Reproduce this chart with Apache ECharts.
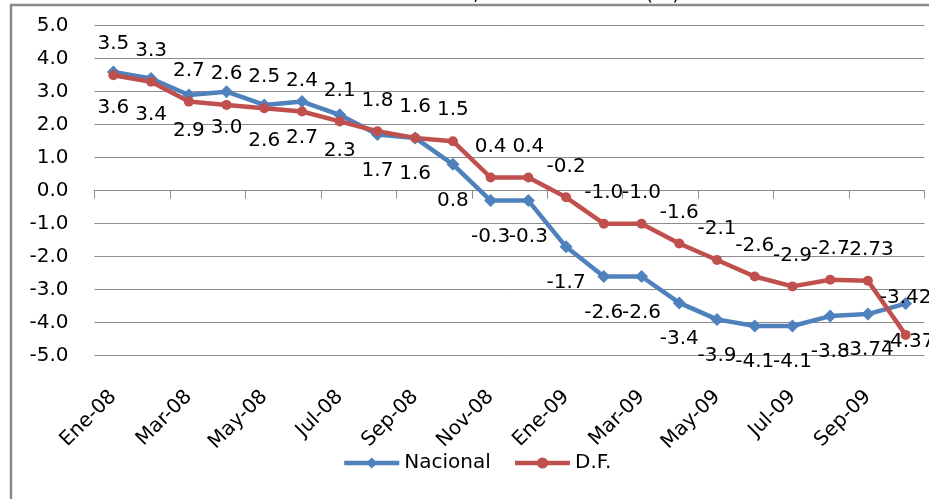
<!DOCTYPE html>
<html>
<head>
<meta charset="utf-8">
<title>Nacional vs D.F.</title>
<script src="https://cdn.jsdelivr.net/npm/echarts@6/dist/echarts.min.js"></script>
<style>
    html, body { margin: 0; padding: 0; background: #fff; }
    #chart_con { width: 929px; height: 499px; }
</style>
</head>
<body>
<div id="chart_con"></div>
<script>
    // datos
    var meses = ['Ene-08', 'Feb-08', 'Mar-08', 'Abr-08', 'May-08', 'Jun-08', 'Jul-08', 'Ago-08',
        'Sep-08', 'Oct-08', 'Nov-08', 'Dic-08', 'Ene-09', 'Feb-09', 'Mar-09', 'Abr-09',
        'May-09', 'Jun-09', 'Jul-09', 'Ago-09', 'Sep-09', 'Oct-09'];
    var nacional = [3.6, 3.4, 2.9, 3.0, 2.6, 2.7, 2.3, 1.7, 1.6, 0.8, -0.3, -0.3,
        -1.7, -2.6, -2.6, -3.4, -3.9, -4.1, -4.1, -3.8, -3.74, -3.42];
    var df = [3.5, 3.3, 2.7, 2.6, 2.5, 2.4, 2.1, 1.8, 1.6, 1.5, 0.4, 0.4,
        -0.2, -1.0, -1.0, -1.6, -2.1, -2.6, -2.9, -2.7, -2.73, -4.37];
    var titulo = 'Índice de Precios de la Vivienda, variación anual (%)';

    var fuente = 'DejaVu Sans';

    function fmt (v) {
        var s = String(v);
        if (s.indexOf('.') >= 0 && s.split('.')[1].length > 1) {
            return s;
        }
        return v.toFixed(1);
    }

    // el ultimo punto tiene la etiqueta en otro lado
    function armar (valores, offsetUltimo) {
        return valores.map(function (v, i) {
            if (i === valores.length - 1) {
                return { value: v, label: { offset: offsetUltimo } };
            }
            return v;
        });
    }

    var chart = echarts.init(document.getElementById('chart_con'));
    var option = {
        animation: false,
        graphic: [
            {
                type: 'rect',
                shape: { x: 11, y: 5, width: 1000, height: 600 },
                style: { fill: 'none', stroke: '#8a8a8a', lineWidth: 2.5 }
            },
            {
                // titulo cortado arriba, solo se ve el borde inferior
                type: 'text',
                x: 418,
                y: 5,
                style: {
                    text: titulo,
                    font: '20px "DejaVu Sans"',
                    fill: '#000',
                    align: 'center',
                    verticalAlign: 'bottom'
                }
            }
        ],
        legend: {
            data: ['Nacional', 'D.F.'],
            left: 342,
            top: 453,
            padding: 0,
            itemWidth: 55,
            itemHeight: 14,
            itemGap: 22,
            lineStyle: { width: 4.5 },
            textStyle: { fontFamily: fuente, fontSize: 20, color: '#000' }
        },
        grid: {
            left: 94.5,
            right: 4.5,
            top: 25.7,
            bottom: 143.3
        },
        xAxis: [
            {
                type: 'category',
                data: meses,
                boundaryGap: true,
                axisLine: { onZero: true, lineStyle: { color: '#8c8c8c', width: 1 } },
                axisTick: { show: true, interval: 1, length: 8, lineStyle: { color: '#8c8c8c' } },
                axisLabel: { show: false },
                splitLine: { show: false }
            },
            {
                type: 'category',
                data: meses,
                position: 'bottom',
                boundaryGap: true,
                axisLine: { show: false, onZero: false },
                axisTick: { show: false },
                splitLine: { show: false },
                axisLabel: {
                    interval: 1,
                    rotate: 45,
                    margin: 38,
                    fontFamily: fuente,
                    fontSize: 20,
                    color: '#000'
                }
            }
        ],
        yAxis: {
            type: 'value',
            min: -5,
            max: 5,
            interval: 1,
            axisLine: { show: false },
            axisTick: { show: false },
            axisLabel: {
                margin: 26,
                fontFamily: fuente,
                fontSize: 20,
                color: '#000',
                formatter: function (v) { return v.toFixed(1); }
            },
            splitLine: { lineStyle: { color: '#8c8c8c', width: 1 } }
        },
        series: [
            {
                name: 'Nacional',
                type: 'line',
                xAxisIndex: 0,
                data: armar(nacional, [0, -6]),
                symbol: 'diamond',
                symbolSize: 13,
                itemStyle: { color: '#4f81bd' },
                lineStyle: { color: '#4f81bd', width: 4.5 },
                label: {
                    show: true,
                    position: 'inside',
                    offset: [0, 36],
                    fontFamily: fuente,
                    fontSize: 20,
                    color: '#000',
                    formatter: function (p) { return fmt(p.value); }
                }
            },
            {
                name: 'D.F.',
                type: 'line',
                xAxisIndex: 0,
                data: armar(df, [3, 7]),
                symbol: 'circle',
                symbolSize: 10,
                itemStyle: { color: '#c0504d' },
                lineStyle: { color: '#c0504d', width: 4.5 },
                label: {
                    show: true,
                    position: 'inside',
                    offset: [0, -31],
                    fontFamily: fuente,
                    fontSize: 20,
                    color: '#000',
                    formatter: function (p) { return fmt(p.value); }
                }
            }
        ]
    };
    chart.setOption(option);

    window.addEventListener('resize', function () {
        chart.resize();
    });
</script>
</body>
</html>
